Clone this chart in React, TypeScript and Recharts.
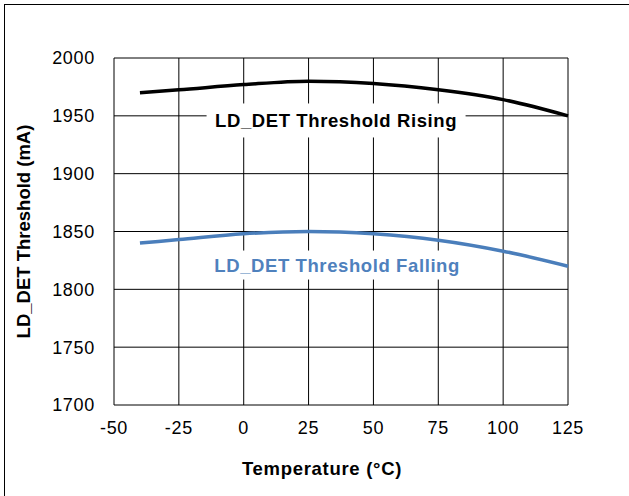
import React from 'react';
import { LineChart, Line, XAxis, YAxis, CartesianGrid, ReferenceDot, Label } from 'recharts';

// Temperature sweep (°C) and measured thresholds (mA)
const temps = [-40, -25, 0, 25, 50, 75, 100, 125];
const rising = [1970, 1972.5, 1977, 1980, 1978, 1972.5, 1964, 1950];
const falling = [1840, 1843, 1848, 1850, 1848, 1842.5, 1833, 1820];

const xTicks = [-50, -25, 0, 25, 50, 75, 100, 125];
const yTicks = [1700, 1750, 1800, 1850, 1900, 1950, 2000];

const risingLabel = 'LD_DET Threshold Rising';
const fallingLabel = 'LD_DET Threshold Falling';

const data = temps.map((t, i) => ({ temp: t, rising: rising[i], falling: falling[i] }));

const FONT = '"Liberation Sans", Arial, sans-serif';
const BLUE = '#4a7ebb';

const BoxLabel = (props: any) => {
  const { viewBox, text, color, w, h } = props;
  const cx = viewBox.x + (viewBox.width || 0) / 2;
  const cy = viewBox.y + (viewBox.height || 0) / 2;
  return (
    <g>
      <rect x={cx - w / 2} y={cy - h / 2} width={w} height={h} fill="#fff" />
      <text
        x={cx}
        y={cy}
        textAnchor="middle"
        dominantBaseline="central"
        fontFamily={FONT}
        fontWeight="bold"
        fontSize={18.5}
        letterSpacing={0.6}
        fill={color}
      >
        {text}
      </text>
    </g>
  );
};

export default function App() {
  return (
    <div style={{ position: 'fixed', left: 0, top: 0, width: 629, height: 496, background: '#fff' }}>
      <div
        style={{
          position: 'absolute',
          left: 4,
          top: 4,
          width: 625,
          height: 492,
          borderTop: '1px solid #000',
          borderLeft: '1px solid #000',
          boxSizing: 'border-box',
        }}
      />
      <div style={{ position: 'absolute', left: 0, top: 0 }}>
        <LineChart width={629} height={496} data={data} margin={{ top: 58, right: 61, bottom: 16, left: 18 }}>
          <CartesianGrid stroke="#000" strokeWidth={1} />
          <XAxis
            dataKey="temp"
            type="number"
            domain={[-50, 125]}
            ticks={xTicks}
            axisLine={false}
            tickLine={false}
            tickSize={0}
            tickMargin={16}
            height={75}
            tick={{ fill: '#000', fontSize: 18, fontFamily: FONT, letterSpacing: 0.7 }}
          >
            <Label
              value="Temperature (°C)"
              position="insideBottom"
              offset={5.5}
              dx={-19}
              style={{ fontFamily: FONT, fontWeight: 'bold', fontSize: 18.5, fill: '#000', letterSpacing: 0.7 }}
            />
          </XAxis>
          <YAxis
            type="number"
            domain={[1700, 2000]}
            ticks={yTicks}
            axisLine={false}
            tickLine={false}
            tickSize={0}
            tickMargin={19}
            width={96}
            tick={{ fill: '#000', fontSize: 18, fontFamily: FONT, letterSpacing: 0.7 }}
          >
            <Label
              value="LD_DET Threshold (mA)"
              position="insideLeft"
              angle={-90}
              offset={5}
              style={{ textAnchor: 'middle', fontFamily: FONT, fontWeight: 'bold', fontSize: 18.5, fill: '#000' }}
            />
          </YAxis>
          <Line
            type="monotone"
            dataKey="rising"
            stroke="#000"
            strokeWidth={3.5}
            dot={false}
            isAnimationActive={false}
          />
          <Line
            type="monotone"
            dataKey="falling"
            stroke={BLUE}
            strokeWidth={3.5}
            dot={false}
            isAnimationActive={false}
          />
          <ReferenceDot
            x={35.6}
            y={1946}
            r={0}
            fill="none"
            stroke="none"
            label={<BoxLabel text={risingLabel} color="#000" w={259} h={34} />}
          />
          <ReferenceDot
            x={36}
            y={1821}
            r={0}
            fill="none"
            stroke="none"
            label={<BoxLabel text={fallingLabel} color="#4f81bd" w={262} h={29} />}
          />
        </LineChart>
      </div>
    </div>
  );
}
